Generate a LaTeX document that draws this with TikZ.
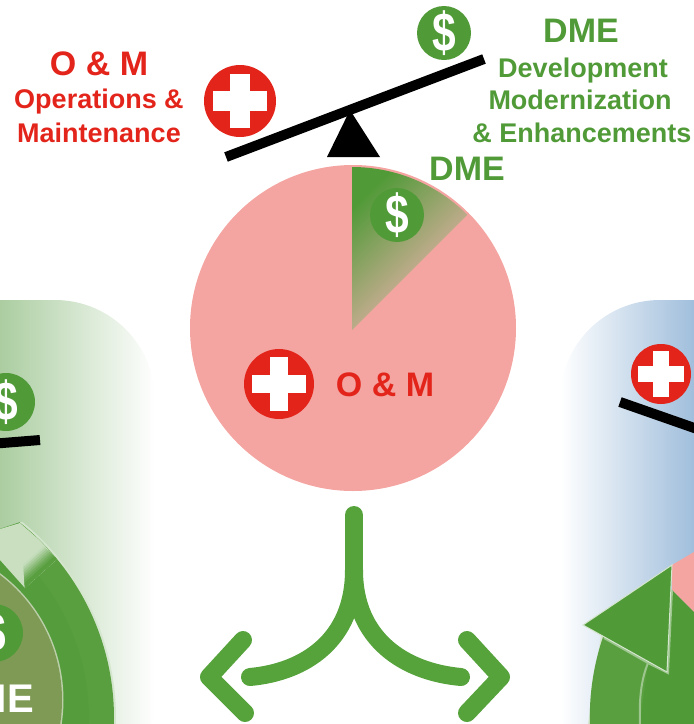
\documentclass[tikz,border=0pt]{standalone}
\usepackage{fontspec}
\setmainfont{Liberation Sans}
\usepackage{tikz}
\usetikzlibrary{positioning}
\usetikzlibrary{calc}
\definecolor{dmegreen}{HTML}{519A38}
\definecolor{omred}{HTML}{E3241B}
\definecolor{piepink}{HTML}{F4A5A1}
\definecolor{wedgetan}{HTML}{FFB5BC}
\definecolor{arrowgreen}{HTML}{56A33C}
\definecolor{ringgreen}{HTML}{599F40}
\definecolor{ringhalo}{HTML}{D5E6CE}
\definecolor{coregreen}{HTML}{7E9A55}
\definecolor{panelgreen}{RGB}{116,173,99}
\definecolor{panelblue}{RGB}{85,139,192}
\newcommand{\dollarmark}{\scalebox{.85}[1.1]{\$}}
\tikzset{
	dollar/.style={circle,fill=dmegreen,text=white,minimum size=#1,inner sep=0pt,font=\bfseries\fontsize{50}{50}\selectfont},
	redplus/.style={circle,fill=omred,minimum size=#1,inner sep=0pt,path picture={
		\fill[white] ([xshift=-.38*#1,yshift=-.135*#1]path picture bounding box.center) rectangle ([xshift=.38*#1,yshift=.135*#1]path picture bounding box.center);
		\fill[white] ([xshift=-.135*#1,yshift=-.38*#1]path picture bounding box.center) rectangle ([xshift=.135*#1,yshift=.38*#1]path picture bounding box.center);}},
	bigword/.style={inner sep=0pt,anchor=base,font=\bfseries\fontsize{34}{34}\selectfont},
	smallword/.style={inner sep=0pt,anchor=base,font=\bfseries\fontsize{27}{27}\selectfont},
	beam/.style={line width=10pt},
	splitline/.style={draw=arrowgreen,line width=18pt,line cap=round,line join=round},
}

\begin{document}
\begin{tikzpicture}[x=1pt,y=-1pt]
	\useasboundingbox (0,0) rectangle (694,724);
	\clip (0,0) rectangle (694,724);

	%Side panels
	\shade[rounded corners=100pt,left color=panelgreen,right color=white] (-100,300) rectangle (155,800);
	\shade[rounded corners=100pt,left color=white,right color=panelblue] (560,300) rectangle (800,800);

	%Left wheel
	\begin{scope}
		\clip (20,522) -- (200,522) -- (200,724) -- (-10,724) -- (-10,532) -- cycle;
		\fill[ringhalo] (-136,718) circle (252);
		\fill[ringgreen] (-136,718) circle (250);
		\fill[dmegreen!50!ringgreen] (-136,718) circle (225);
	\end{scope}
	\coordinate (glareT) at (20,523);
	\coordinate (glareM) at (40,540.5);
	\coordinate (glareA) at (57,559);
	\coordinate (glareB) at (25,588);
	\begin{scope}
		\clip (glareT) -- (glareM) -- (glareA) -- (glareB) -- (0,560) -- (-10,532) -- cycle;
		\fill[ringgreen!10!ringhalo] (-10,500) rectangle (60,590);
		\foreach \s/\p in {.36/15,.32/28,.28/41,.24/54,.2/67,.16/80,.12/90,.08/100}
			\fill[ringgreen!\p!ringhalo] ($(glareA)!\s!(glareT)$) -- ($(glareB)!\s!(glareT)$) -- (glareB) -- (glareA) -- cycle;
	\end{scope}
	\fill[ringhalo!70!coregreen] (-95,700) circle (158.5);
	\fill[coregreen] (-95,700) circle (157);

	%Right wheel
	\fill[ringhalo] (601,635) -- (664,675) -- (700,724) -- (588,724) -- cycle;
	\fill[ringgreen] (603,637) arc (198.7:150:250) -- (700,724) -- (667,672) -- cycle;
	\fill[piepink] (672,565) -- (694,552) -- (694,612) -- (672,590) -- cycle;
	\fill[dmegreen] (672,590) -- (694,612) -- (694,724) -- (640,724) -- (648,663) -- (667,672) -- cycle;
	\draw[ringhalo!55!ringgreen,line width=2pt] (604,638) -- (648,663) .. controls (641,680) and (639,700) .. (640,724);
	\draw[ringhalo!55!ringgreen,line width=2pt] (672,590) -- (668,673) -- (648,663);
	\fill[dmegreen,draw=ringhalo,line width=1pt] (583,625) -- (672,565) -- (667,672) -- cycle;

	%Pie
	\fill[piepink] (353,328) circle (163);
	\shade[left color=dmegreen,right color=wedgetan,shading angle=45] (352,330) -- (352,167) arc (-90:-45:163) -- cycle;

	%Nodes
	\node[dollar=58pt] (dollarleft) at (6,402) {\dollarmark};
	\node[dollar=58pt] (dollarwheel) at (-6,633) {\dollarmark};
	\node[dollar=54pt] (dollartop) at (444,33) {\dollarmark};
	\node[dollar=54pt] (dollarpie) at (397,215) {\dollarmark};
	\node[redplus=72pt] (plustop) at (240,101) {};
	\node[redplus=70pt] (pluspie) at (279,384) {};
	\node[redplus=60pt] (plusright) at (661,374) {};

	\node[bigword,text=omred] (omtitle) at (99,75) {O \& M};
	\node[smallword,text=omred] (omfirst) at (99,108) {Operations \&};
	\node[smallword,text=omred] (omsecond) at (99,142) {Maintenance};
	\node[bigword,text=omred] (ompie) at (385,396) {O \& M};
	\node[bigword,text=dmegreen] (dmetitle) at (581,42) {DME};
	\node[smallword,text=dmegreen] (dmefirst) at (583,77) {Development};
	\node[smallword,text=dmegreen] (dmesecond) at (580,109) {Modernization};
	\node[smallword,text=dmegreen] (dmethird) at (582,142) {\& Enhancements};
	\node[bigword,text=dmegreen] (dmepie) at (467,180) {DME};
	\node[inner sep=0pt,anchor=base east,text=white,font=\bfseries\fontsize{40}{40}\selectfont] (dmewheel) at (34,712) {DME};

	\coordinate (beamA) at (226,157);
	\coordinate (beamB) at (484,59);
	\coordinate (beamC) at (-10,444);
	\coordinate (beamD) at (40,440);
	\coordinate (beamE) at (620,402);
	\coordinate (beamF) at (700,430);
	\coordinate (pivotA) at (327,157);
	\coordinate (pivotB) at (380,157);
	\coordinate (pivotC) at (350,110);

	\coordinate (stem) at (354,515);
	\coordinate (fork) at (354,570);
	\coordinate (tailL) at (250,677);
	\coordinate (tailR) at (461,677);
	\coordinate (tipL) at (209,677);
	\coordinate (tipR) at (501,677);
	\coordinate (wingLa) at (243,640);
	\coordinate (wingLb) at (245,713);
	\coordinate (wingRa) at (467,640);
	\coordinate (wingRb) at (467,713);

	%Lines
	\fill (pivotA) -- (pivotC) -- (pivotB) -- cycle;
	\draw[beam] (beamA) -- (beamB);
	\draw[beam] (beamC) -- (beamD);
	\draw[beam] (beamE) -- (beamF);

	\draw[splitline] (fork) .. controls (354,640) and (305,672) .. (tailL);
	\draw[splitline] (fork) .. controls (354,640) and (405,672) .. (tailR);
	\draw[splitline] (stem) -- (fork);
	\draw[splitline] (wingLa) -- (tipL) -- (wingLb);
	\draw[splitline] (wingRa) -- (tipR) -- (wingRb);
\end{tikzpicture}
\end{document}
